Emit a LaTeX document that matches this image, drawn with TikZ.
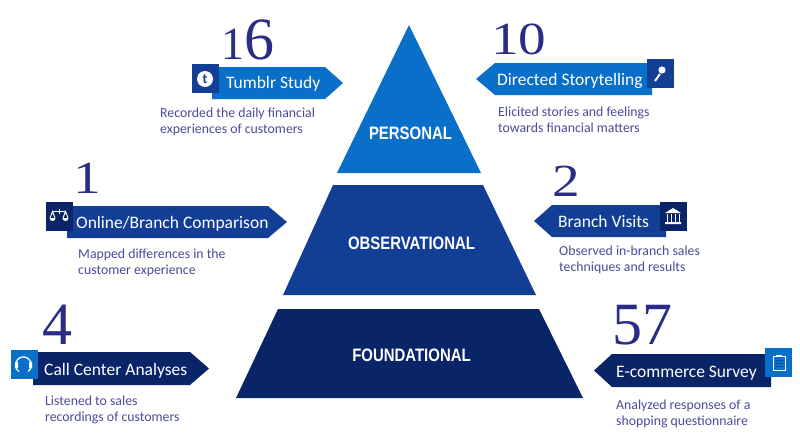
\documentclass[tikz,border=0pt]{standalone}
\usepackage{fontspec}
\setmainfont{Carlito}
\newfontfamily\numfont{Liberation Serif}
\newfontfamily\headfont{Liberation Sans}
\usepackage{tikz}
\newcommand{\lowfig}[1]{\scalebox{1.2}[1]{#1}}
\newcommand{\tallfig}[1]{{\fontsize{60}{60}\selectfont#1}}
\definecolor{brightblue}{HTML}{0A6FC8}
\definecolor{midblue}{HTML}{123F95}
\definecolor{darkblue}{HTML}{0A2468}
\definecolor{numink}{HTML}{2A2C85}
\definecolor{noteink}{HTML}{4A4A9A}

\begin{document}
\begin{tikzpicture}[
  x=1pt,y=-1pt,
  level/.style={font=\headfont\bfseries\fontsize{18}{20}\selectfont,text=white,inner sep=0pt},
  count/.style={font=\numfont\fontsize{46}{46}\selectfont,text=numink,inner sep=0pt,anchor=base west},
  title/.style={font=\fontsize{17.5}{20}\selectfont,text=white,inner sep=0pt,anchor=base west},
  note/.style={font=\fontsize{13.8}{16}\selectfont,text=noteink,inner sep=0pt,anchor=north west,align=left},
  iconbox/.style={minimum width=27pt,minimum height=29pt,inner sep=0pt},
  glyph/.style={draw=white,line width=1pt}
]
  \useasboundingbox (0,0) rectangle (800,434);

  % The three levels of the pyramid.
  \fill[brightblue] (409,25) -- (481,173) -- (337,173) -- cycle;
  \fill[midblue] (333,185) -- (483,185) -- (536,295) -- (283,295) -- cycle;
  \fill[darkblue] (278,309) -- (539,309) -- (583,398) -- (236,398) -- cycle;
  \node[level] (personal) at (410.5,133) {\scalebox{0.83}[1]{PERSONAL}};
  \node[level] (observational) at (411.5,243) {\scalebox{0.83}[1]{OBSERVATIONAL}};
  \node[level] (foundational) at (411.5,355) {\scalebox{0.83}[1]{FOUNDATIONAL}};

  % Top row.
  \fill[brightblue] (212,67) -- (325,67) -- (343,83) -- (325,99) -- (212,99) -- cycle;
  \node[iconbox,fill=midblue] (tumblricon) at (205.5,78.5) {};
  \node[circle,fill=white,minimum size=16pt,inner sep=0pt,text=midblue,font=\bfseries\fontsize{14}{14}\selectfont] (tumblrt) at (205,79) {t};
  \node[count] (tumblrcount) at (221,59) {1\tallfig{6}};
  \node[title] (tumblrtitle) at (226,88) {Tumblr Study};
  \node[note] (tumblrnote) at (160,108) {Recorded the daily financial\\experiences of customers};

  \fill[brightblue] (476,79) -- (495,63) -- (652,63) -- (652,95) -- (495,95) -- cycle;
  \node[iconbox,fill=midblue] (micicon) at (660,73.5) {};
  \fill[white] (662,70) circle (3.6);
  \draw[glyph,line width=2pt] (660,74) -- (655,81);
  \node[count] (storycount) at (491,54) {\lowfig{10}};
  \node[title] (storytitle) at (497,85) {Directed Storytelling};
  \node[note] (storynote) at (498,107) {Elicited stories and feelings\\towards financial matters};

  % Middle row.
  \fill[midblue] (67,206) -- (268,206) -- (287,222) -- (268,238) -- (67,238) -- cycle;
  \node[iconbox,fill=darkblue] (scaleicon) at (59.5,216) {};
  \draw[glyph] (52,211) -- (66,211) (59,208.5) -- (59,214);
  \draw[glyph] (50,218) -- (52.5,211.5) -- (55,218) (63,218) -- (65.5,211.5) -- (68,218);
  \fill[white] (49.5,218) arc (180:0:3 and 3) -- cycle (62.5,218) arc (180:0:3 and 3) -- cycle;
  \node[count] (onlinecount) at (73,193) {\lowfig{1}};
  \node[title] (onlinetitle) at (76,228) {Online/Branch Comparison};
  \node[note] (onlinenote) at (78,249) {Mapped differences in the\\customer experience};

  \fill[midblue] (534,221) -- (552,205) -- (666,205) -- (666,237) -- (552,237) -- cycle;
  \node[iconbox,fill=darkblue] (bankicon) at (673.5,216) {};
  \fill[white] (673,208) -- (681,213) -- (665,213) -- cycle (665,222) rectangle (681,224);
  \draw[glyph] (667,214) -- (667,222) (671,214) -- (671,222) (675,214) -- (675,222) (679,214) -- (679,222);
  \node[count] (branchcount) at (552,196) {\lowfig{2}};
  \node[title] (branchtitle) at (558,227) {Branch Visits};
  \node[note] (branchnote) at (559,246) {Observed in-branch sales\\techniques and results};

  % Bottom row.
  \fill[darkblue] (33,352) -- (190,352) -- (209,368.5) -- (190,385) -- (33,385) -- cycle;
  \node[iconbox,fill=brightblue] (callicon) at (24,364.5) {};
  \draw[glyph,line width=1.3pt] (18.9,371.5) arc (125:415:8);
  \fill[white] (15,362) rectangle (18,368) (29,362) rectangle (32,368);
  \node[count] (callcount) at (42,344) {\tallfig{4}};
  \node[title] (calltitle) at (44,375) {Call Center Analyses};
  \node[note] (callnote) at (45,396) {Listened to sales\\recordings of customers};

  \fill[darkblue] (594,370.5) -- (612,354) -- (771,354) -- (771,387) -- (612,387) -- cycle;
  \node[iconbox,fill=brightblue] (clipicon) at (778.5,362.5) {};
  \draw[glyph] (773,356) rectangle (785,370);
  \fill[white] (776,354.5) rectangle (782,357);
  \draw[brightblue!70!black,line width=1pt] (775.5,360) -- (782.5,360) (775.5,363) -- (782.5,363) (775.5,366) -- (782.5,366);
  \node[count] (surveycount) at (612,344) {\tallfig{57}};
  \node[title] (surveytitle) at (616,377) {E-commerce Survey};
  \node[note] (surveynote) at (616,400) {Analyzed responses of a\\shopping questionnaire};
\end{tikzpicture}
\end{document}
